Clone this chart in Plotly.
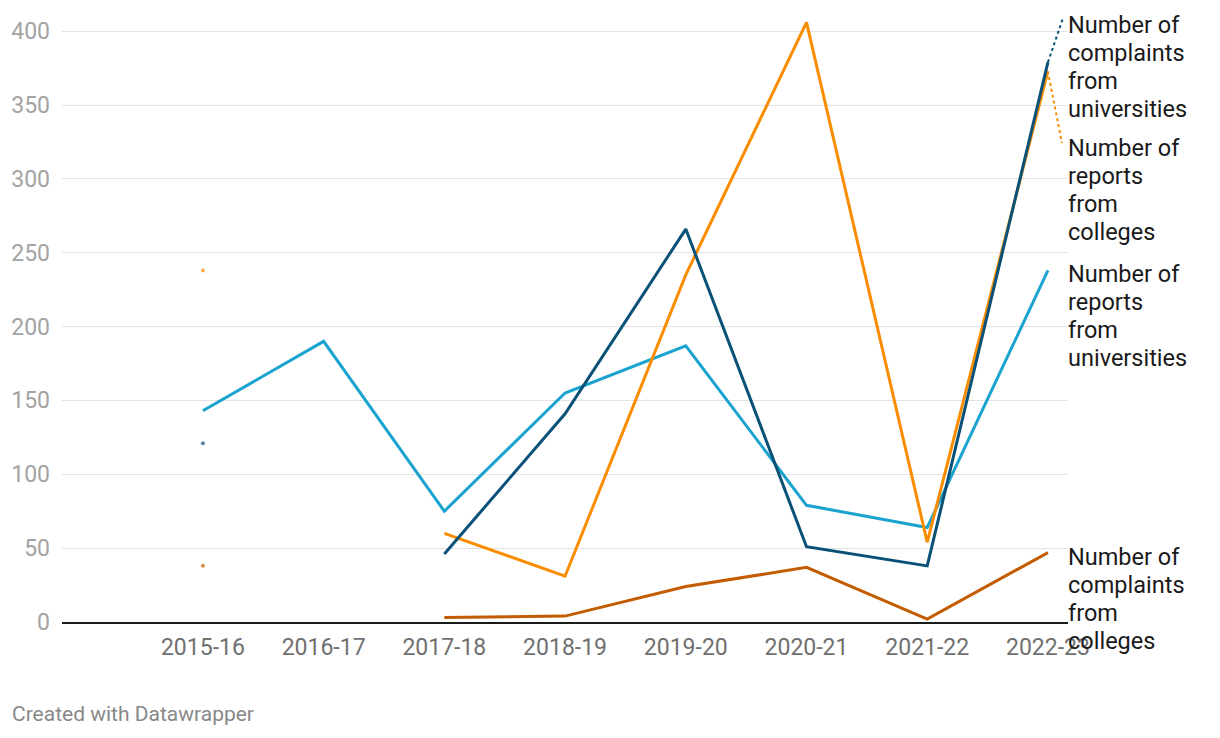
import plotly.graph_objects as go

years = ["2015-16", "2016-17", "2017-18", "2018-19", "2019-20", "2020-21", "2021-22", "2022-23"]
reports_universities = [143, 190, 75, 155, 187, 79, 64, 238]
complaints_universities = [121, None, 46, 141, 266, 51, 38, 379]
reports_colleges = [238, None, 60, 31, 235, 406, 54, 373]
complaints_colleges = [38, None, 3, 4, 24, 37, 2, 47]

series = [
    ("Number of reports from universities", reports_universities, "#1ba3d0"),
    ("Number of complaints from colleges", complaints_colleges, "#c35c00"),
    ("Number of reports from colleges", reports_colleges, "#fa8c00"),
    ("Number of complaints from universities", complaints_universities, "#0a5177"),
]
label_lines = {
    "Number of complaints from universities": ["Number of", "complaints", "from", "universities"],
    "Number of reports from colleges": ["Number of", "reports", "from", "colleges"],
    "Number of reports from universities": ["Number of", "reports", "from", "universities"],
    "Number of complaints from colleges": ["Number of", "complaints", "from", "colleges"],
}
# pixel offset of first label line from the series end point
label_shift = {
    "Number of complaints from universities": 37,
    "Number of reports from colleges": -77,
    "Number of reports from universities": -4,
    "Number of complaints from colleges": -4,
}
connectors = {
    "Number of complaints from universities": (0, 0, 15, 44),
    "Number of reports from colleges": (1, -6, 14, -72),
}
LINE_H = 28

# page is offset by 8px body margin
W, H = 1212, 730
ml, mr, mt, mb = 54, 152, 1, 116
pw, ph = W - ml - mr, H - mt - mb

fig = go.Figure()
annotations = []
shapes = []
for name, vals, color in series:
    sizes = []
    for i, v in enumerate(vals):
        isolated = v is not None and (i == 0 or vals[i - 1] is None) and (i == len(vals) - 1 or vals[i + 1] is None)
        sizes.append(4 if isolated else 0)
    fig.add_trace(go.Scatter(
        x=years, y=vals, name=name, mode="lines+markers",
        line=dict(color=color, width=3), connectgaps=False,
        marker=dict(size=sizes, color=color, line=dict(width=0)),
        hoverinfo="x+y+name",
    ))
    for k, line in enumerate(label_lines[name]):
        annotations.append(dict(
            x=years[-1], y=vals[-1], xref="x", yref="y", text=line,
            showarrow=False, xanchor="left", yanchor="middle", align="left",
            xshift=18, yshift=label_shift[name] - k * LINE_H,
            font=dict(family="Roboto", size=23.5, color="#1a1a1a"),
        ))
    if name in connectors:
        x0, y0, x1, y1 = connectors[name]
        shapes.append(dict(
            type="line", xref="x", yref="y", xsizemode="pixel", ysizemode="pixel",
            xanchor=years[-1], yanchor=vals[-1], x0=x0, y0=y0, x1=x1, y1=y1,
            line=dict(color=color, width=2, dash="dot"),
        ))

annotations.append(dict(
    x=(2 - ml) / pw, y=(H - mb - 706) / ph, xref="paper", yref="paper",
    text="Created with Datawrapper",
    showarrow=False, xanchor="left", yanchor="middle",
    font=dict(family="Roboto", size=21, color="#888888"),
))

fig.update_layout(
    width=W, height=H,
    margin=dict(l=ml, r=mr, t=mt, b=mb, autoexpand=False),
    paper_bgcolor="white", plot_bgcolor="white",
    showlegend=False,
    font=dict(family="Roboto"),
    annotations=annotations,
    shapes=shapes,
    xaxis=dict(
        type="category", range=[-1.167, 7.166], showgrid=False,
        showline=True, linecolor="#1a1a1a", linewidth=2,
        ticks="", tickfont=dict(family="Roboto", size=23, color="#707070"),
        ticklabelstandoff=3, automargin=False,
    ),
    yaxis=dict(
        range=[0, 415], dtick=50, tick0=0, showgrid=True, gridcolor="#e3e3e3", gridwidth=1,
        zeroline=False, showline=False, ticks="",
        tickfont=dict(family="Roboto", size=23, color="#a3a3a3"),
        ticklabelstandoff=11, automargin=False,
    ),
)

fig.write_html("out.html")
